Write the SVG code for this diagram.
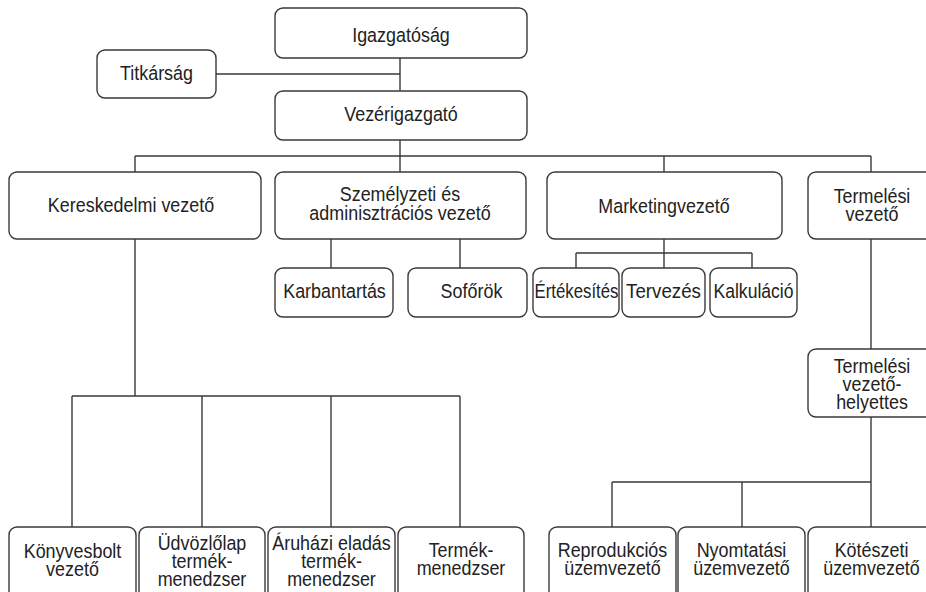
<svg xmlns="http://www.w3.org/2000/svg" width="926" height="592" viewBox="0 0 926 592">
<style>
.box{fill:#fff;stroke:#3a3a3a;stroke-width:1.4}
.t{font-family:"Liberation Sans",Arial,sans-serif;font-size:19.5px;fill:#222;text-anchor:middle}
.c{fill:none;stroke:#3a3a3a;stroke-width:1.4}
</style>
<rect width="926" height="592" fill="#fff"/>
<g id="connectors">
<path class="c" d="M400 58V91M216 74H400M400 140V156M135 156H871M135 156V172M400 156V172M664 156V172M871 156V172"/>
<path class="c" d="M135 239V396M72 396H460M72 396V527M202 396V527M331 396V527M460 396V527"/>
<path class="c" d="M331 239V268M460 239V268"/>
<path class="c" d="M664 239V268M576 253H752M576 253V268M752 253V268"/>
<path class="c" d="M871 239V349M871 417V527M612 482H871M612 482V527M742 482V527"/>
</g>
<g id="igazgatosag"><rect class="box" x="275" y="8" width="252" height="50" rx="8"/><g transform="translate(401 0) scale(.92 1)"><text class="t" x="0" y="42">Igazgatóság</text></g></g>
<g id="titkarsag"><rect class="box" x="97" y="50" width="119" height="48" rx="8"/><g transform="translate(156.5 0) scale(.92 1)"><text class="t" x="0" y="80">Titkárság</text></g></g>
<g id="vezerigazgato"><rect class="box" x="275" y="91" width="252" height="49" rx="8"/><g transform="translate(401 0) scale(.92 1)"><text class="t" x="0" y="121">Vezérigazgató</text></g></g>
<g id="kereskedelmi"><rect class="box" x="9" y="172" width="252" height="67" rx="8"/><g transform="translate(131 0) scale(.92 1)"><text class="t" x="0" y="212">Kereskedelmi vezető</text></g></g>
<g id="szemelyzeti"><rect class="box" x="275" y="172" width="251" height="67" rx="8"/><g transform="translate(400 0) scale(.92 1)"><text class="t" x="0" y="201">Személyzeti és<tspan x="0" dy="19">adminisztrációs vezető</tspan></text></g></g>
<g id="marketing"><rect class="box" x="547" y="172" width="235" height="67" rx="8"/><g transform="translate(664 0) scale(.92 1)"><text class="t" x="0" y="213">Marketingvezető</text></g></g>
<g id="termelesi"><rect class="box" x="808" y="172" width="126" height="67" rx="8"/><g transform="translate(872 0) scale(.92 1)"><text class="t" x="0" y="203">Termelési<tspan x="0" dy="18">vezető</tspan></text></g></g>
<g id="karbantartas"><rect class="box" x="275" y="268" width="118" height="49" rx="8"/><g transform="translate(334.5 0) scale(.92 1)"><text class="t" x="0" y="298">Karbantartás</text></g></g>
<g id="soforok"><rect class="box" x="408" y="268" width="119" height="49" rx="8"/><g transform="translate(471.5 0) scale(.92 1)"><text class="t" x="0" y="298">Sofőrök</text></g></g>
<g id="ertekesites"><rect class="box" x="533" y="268" width="86" height="49" rx="8"/><g transform="translate(576.5 0) scale(.86 1)"><text class="t" x="0" y="298">Értékesítés</text></g></g>
<g id="tervezes"><rect class="box" x="622" y="268" width="83" height="49" rx="8"/><g transform="translate(663.5 0) scale(.96 1)"><text class="t" x="0" y="298">Tervezés</text></g></g>
<g id="kalkulacio"><rect class="box" x="710" y="268" width="87" height="49" rx="8"/><g transform="translate(753.5 0) scale(.9 1)"><text class="t" x="0" y="298">Kalkuláció</text></g></g>
<g id="helyettes"><rect class="box" x="808" y="349" width="126" height="68" rx="8"/><g transform="translate(872 0) scale(.92 1)"><text class="t" x="0" y="373">Termelési<tspan x="0" dy="18">vezető-</tspan><tspan x="0" dy="18">helyettes</tspan></text></g></g>
<g id="konyvesbolt"><rect class="box" x="9" y="527" width="127" height="75" rx="8"/><g transform="translate(72.5 0) scale(.92 1)"><text class="t" x="0" y="558">Könyvesbolt<tspan x="0" dy="18">vezető</tspan></text></g></g>
<g id="udvozlolap"><rect class="box" x="139" y="527" width="126" height="75" rx="8"/><g transform="translate(202 0) scale(.92 1)"><text class="t" x="0" y="550">Üdvözlőlap<tspan x="0" dy="18">termék-</tspan><tspan x="0" dy="18">menedzser</tspan></text></g></g>
<g id="aruhazi"><rect class="box" x="268" y="527" width="127" height="75" rx="8"/><g transform="translate(331.5 0) scale(.92 1)"><text class="t" x="0" y="550">Áruházi eladás<tspan x="0" dy="18">termék-</tspan><tspan x="0" dy="18">menedzser</tspan></text></g></g>
<g id="termekmenedzser"><rect class="box" x="398" y="527" width="126" height="75" rx="8"/><g transform="translate(461 0) scale(.92 1)"><text class="t" x="0" y="557">Termék-<tspan x="0" dy="18">menedzser</tspan></text></g></g>
<g id="reprodukcios"><rect class="box" x="549" y="527" width="127" height="75" rx="8"/><g transform="translate(612.5 0) scale(.92 1)"><text class="t" x="0" y="557">Reprodukciós<tspan x="0" dy="18">üzemvezető</tspan></text></g></g>
<g id="nyomtatasi"><rect class="box" x="678" y="527" width="127" height="75" rx="8"/><g transform="translate(741.5 0) scale(.92 1)"><text class="t" x="0" y="557">Nyomtatási<tspan x="0" dy="18">üzemvezető</tspan></text></g></g>
<g id="koteszeti"><rect class="box" x="808" y="527" width="127" height="75" rx="8"/><g transform="translate(871.5 0) scale(.92 1)"><text class="t" x="0" y="557">Kötészeti<tspan x="0" dy="18">üzemvezető</tspan></text></g></g>
</svg>
